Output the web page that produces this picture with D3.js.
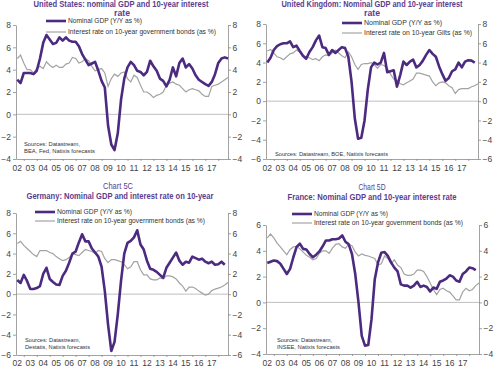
<!DOCTYPE html>
<html>
<head>
<meta charset="utf-8">
<script src="https://cdn.jsdelivr.net/npm/d3@7"></script>
<style>
  body { margin: 0; background: #fff; }
  svg { display: block; font-family: "Liberation Sans", Arial, sans-serif; }
</style>
</head>
<body>
<script>
//Variables
const width = 500;
const height = 367;

//Data: quarterly, starting 2002 Q1
const quarters = d3.range(66).map(i => 2002 + i * 0.25);
const yearLabels = ["02","03","04","05","06","07","08","09","10","11","12","13","14","15","16","17"];

const usGdp = [3.1,2.8,3.7,3.7, 3.7,3.6,3.9,5.0, 6.4,7.1,6.7,6.3, 6.4,6.9,6.6,6.9,
  6.6,6.5,6.5,6.1, 5.4,4.9,4.4,4.55, 4.7,3.9,3.0,2.4, -1.0,-2.7,-3.2,-1.7,
  1.3,3.2,4.2,4.7, 4.4,3.9,3.8,3.5, 3.8,4.8,4.3,3.9, 3.2,3.0,2.5,3.1,
  4.2,3.4,4.6,5.0, 4.2,4.5,4.1,3.5, 3.1,2.9,2.7,2.55, 2.9,3.6,4.6,5.0, 5.1,5.0];
const usRate = [5.0,5.3,4.6,4.0, 4.0,3.7,4.1,4.3, 4.1,4.7,4.4,4.2, 4.4,4.2,4.2,4.5,
  4.6,5.1,5.0,4.6, 4.7,5.0,4.8,4.3, 3.9,4.0,4.1,3.7, 2.5,3.2,3.6,3.4,
  3.7,3.8,3.2,2.9, 3.5,3.3,2.6,2.0, 2.0,1.8,1.5,1.7, 1.8,2.0,2.6,2.8,
  2.9,2.7,2.6,2.3, 2.0,2.2,2.3,2.2, 2.1,1.8,1.6,1.6, 2.5,2.6,2.7,2.9, 3.1,3.3];

const ukGdp = [4.0,4.5,5.3,5.7, 5.9,6.0,6.0,6.2, 5.6,5.75,5.2,4.7, 4.4,5.1,5.6,6.3,
  6.8,5.6,5.5,4.8, 5.3,5.0,5.3,5.6, 5.5,4.6,2.0,-1.8, -3.9,-3.8,-2.0,1.2,
  3.5,4.0,3.8,4.0, 5.0,3.0,3.1,3.2, 1.5,2.7,4.1,3.75, 4.1,4.3,3.5,3.75,
  4.2,4.8,5.3,4.9, 4.6,3.6,2.8,2.1, 2.4,3.1,3.3,4.0, 3.5,4.1,4.25,4.2, 4.0];
const ukRate = [5.2,5.35,5.0,4.6, 4.5,4.3,4.6,4.9, 5.0,5.3,5.1,4.7, 4.6,4.5,4.3,4.4,
  4.2,4.6,4.8,4.7, 5.0,5.3,5.0,4.7, 4.5,5.1,4.6,3.8, 3.3,3.8,3.9,3.9,
  4.0,3.8,3.4,3.8, 3.7,3.4,2.8,2.3, 2.1,1.8,1.7,1.9, 2.1,2.3,2.9,2.9,
  2.8,2.7,2.6,2.0, 1.6,1.9,2.0,1.9, 1.6,1.4,0.8,1.2, 1.3,1.3,1.3,1.5, 1.6,1.8];

const deGdp = [1.4,1.1,1.9,1.3, 0.5,0.5,0.6,0.8, 2.0,2.6,1.5,1.2, 0.95,0.9,1.8,2.3,
  3.1,4.0,4.2,5.1, 5.9,5.2,5.2,4.5, 4.1,3.7,2.7,0.3, -3.0,-5.6,-4.7,-2.0,
  1.3,4.0,5.05,5.25, 5.6,6.3,4.9,4.4, 3.3,2.5,2.4,2.2, 1.9,1.6,2.6,3.1,
  3.6,4.1,3.3,2.9, 3.2,3.1,3.7,3.55, 3.4,3.5,3.2,3.05, 3.2,2.9,2.95,3.2, 2.9];
const deRate = [5.0,5.2,4.8,4.5, 4.2,3.9,3.7,4.3, 4.3,4.3,4.1,4.0, 3.7,3.5,3.3,3.4,
  3.6,4.0,3.9,3.8, 4.1,4.4,4.3,4.2, 4.0,4.3,4.2,3.5, 3.1,3.4,3.4,3.3,
  3.2,2.9,2.5,2.7, 3.2,3.2,2.4,1.9, 1.9,1.5,1.4,1.4, 1.6,1.5,1.8,1.8,
  1.7,1.5,1.1,0.8, 0.3,0.7,0.7,0.55, 0.3,0.1,-0.1,0.0, 0.35,0.5,0.6,0.7, 0.9,1.15];

const frGdp = [3.05,3.15,3.25,3.2, 3.0,2.6,2.2,2.6, 3.5,4.3,4.55,4.15, 4.1,3.75,3.5,3.7,
  3.95,4.35,4.8,4.8, 4.9,4.9,4.95,5.2, 4.7,4.5,3.75,2.2, 0.0,-2.6,-3.35,-3.3,
  -1.3,1.8,3.1,3.85, 3.9,3.6,3.1,2.7, 2.4,1.4,1.3,1.3, 1.15,1.3,1.6,1.2,
  1.3,1.2,0.85,1.15, 1.05,1.6,1.7,1.85, 2.1,2.0,1.7,1.6, 2.2,2.4,2.7,2.65, 2.5];
const frRate = [5.0,5.3,5.0,4.6, 4.3,4.0,3.7,4.1, 4.3,4.35,4.15,3.9, 3.65,3.5,3.3,3.4,
  3.8,4.0,4.0,3.8, 4.2,4.5,4.55,4.3, 4.2,4.5,4.4,3.9, 3.6,3.75,3.65,3.6,
  3.5,3.4,2.9,3.0, 3.6,3.4,3.0,3.3, 2.9,2.7,2.2,2.1, 2.1,2.2,2.5,2.5,
  2.4,2.0,1.5,1.0, 0.6,1.0,1.1,0.9, 0.8,0.5,0.2,0.2, 0.8,1.1,0.9,1.0, 1.3,1.5];

const legendGdp = "Nominal GDP (Y/Y as %)";
const legendBonds = "Interest rate on 10-year government bonds (as %)";
const legendGilts = "Interest rate on 10-year Gilts (as %)";

//Panel layout
const panels = [
  { gdp: usGdp, rate: usRate, left: 16, right: 228, top: 25, bottom: 159, yDomain: [-4, 8],
    titles: [{ t: "United States: nominal GDP and 10-year interest", x: 121, y: 4, len: 175, bold: true },
             { t: "rate", x: 122, y: 13, len: 16, bold: true }],
    legendX: 46, legendY: [21, 32], legendTexts: [legendGdp, legendBonds], legendLens: [74, 148],
    sources: ["Sources: Datastream,", "BEA, Fed, Natixis forecasts"], sourceX: 24, sourceY: [144, 150.5], sourceLens: [56, 71],
    xLabelY: 168 },
  { gdp: ukGdp, rate: ukRate, left: 266, right: 478, top: 24, bottom: 159, yDomain: [-6, 8],
    titles: [{ t: "United Kingdom: Nominal GDP and 10-year interest", x: 372, y: 4.5, len: 181, bold: true },
             { t: "rate", x: 372, y: 13, len: 16, bold: true }],
    legendX: 342, legendY: [23, 33], legendTexts: [legendGdp, legendGilts], legendLens: [78, 108],
    sources: ["Sources: Datastream, BOE, Natixis forecasts"], sourceX: 275, sourceY: [154], sourceLens: [113],
    xLabelY: 168 },
  { gdp: deGdp, rate: deRate, left: 16, right: 228, top: 213, bottom: 355, yDomain: [-6, 8],
    titles: [{ t: "Chart 5C", x: 118, y: 185.5, len: 30, bold: false },
             { t: "Germany: Nominal GDP and interest rate on 10-year", x: 120, y: 196, len: 187, bold: true }],
    legendX: 35, legendY: [212, 221], legendTexts: [legendGdp, legendBonds], legendLens: [75, 148],
    sources: ["Sources: Datastream,", "Destatis, Natixis forecasts"], sourceX: 25, sourceY: [340, 346.5], sourceLens: [55, 65],
    xLabelY: 363 },
  { gdp: frGdp, rate: frRate, left: 266, right: 479, top: 225, bottom: 354, yDomain: [-4, 6],
    titles: [{ t: "Chart 5D", x: 372, y: 186.5, len: 27, bold: false },
             { t: "France: Nominal GDP and 10-year interest rate", x: 372, y: 197, len: 169, bold: true }],
    legendX: 292, legendY: [214, 223], legendTexts: [legendGdp, legendBonds], legendLens: [74, 149],
    sources: ["Sources: Datastream,", "INSEE, Natixis forecasts"], sourceX: 277, sourceY: [340, 346.5], sourceLens: [55, 63],
    xLabelY: 363 }
];

const purple = "#4b2a80";
const grey = "#a3a3a3";
const titleColour = "#5b3d8f";
const axisColour = "#8c8c8c";
const textColour = "#444";

//Svg creation
const svg = d3.select("body")
  .append("svg")
  .attr("width", width)
  .attr("height", height)
  .attr("viewBox", `0 0 ${width} ${height}`);

svg.append("rect").attr("width", width).attr("height", height).attr("fill", "#fff");

function styleAxis(sel) {
  sel.select(".domain").attr("stroke", axisColour).attr("stroke-width", 0.8);
  sel.selectAll(".tick line").attr("stroke", axisColour).attr("stroke-width", 0.8);
  sel.selectAll(".tick text").attr("fill", textColour).style("font-size", "8.5px");
}

panels.forEach(p => {
  const x = d3.scaleLinear().domain([2001.9, 2018.25]).range([p.left, p.right]);
  const y = d3.scaleLinear().domain(p.yDomain).range([p.bottom, p.top]);
  const yTicks = d3.range(p.yDomain[0], p.yDomain[1] + 1, 2);
  const g = svg.append("g");

  //Zero line
  g.append("line")
    .attr("x1", p.left).attr("x2", p.right)
    .attr("y1", y(0)).attr("y2", y(0))
    .attr("stroke", "#b8b8b8").attr("stroke-width", 0.9);

  //Axes
  g.append("g")
    .attr("transform", `translate(${p.left},0)`)
    .call(d3.axisLeft(y).tickValues(yTicks).tickSize(3).tickSizeOuter(0).tickPadding(2))
    .call(styleAxis);

  g.append("g")
    .attr("transform", `translate(${p.right},0)`)
    .call(d3.axisRight(y).tickValues(yTicks).tickSize(3).tickSizeOuter(0).tickPadding(1.5))
    .call(styleAxis);

  g.append("g")
    .attr("transform", `translate(0,${p.bottom})`)
    .call(d3.axisBottom(x).tickValues(d3.range(2002.5, 2018, 1)).tickSize(2).tickSizeOuter(0).tickFormat(""))
    .call(styleAxis);

  g.selectAll(".xlab")
    .data(yearLabels)
    .join("text")
    .attr("x", (d, i) => x(2002 + i))
    .attr("y", p.xLabelY)
    .attr("dy", "0.35em")
    .attr("text-anchor", "middle")
    .attr("fill", textColour)
    .style("font-size", "8.5px")
    .text(d => d);

  //Lines
  const line = d3.line()
    .x((d, i) => x(quarters[i]))
    .y(d => y(d));

  g.append("path")
    .datum(p.rate)
    .attr("d", line)
    .attr("fill", "none")
    .attr("stroke", grey)
    .attr("stroke-width", 1.2);

  g.append("path")
    .datum(p.gdp)
    .attr("d", line)
    .attr("fill", "none")
    .attr("stroke", purple)
    .attr("stroke-width", 2.6)
    .attr("stroke-linejoin", "round");

  //Titles
  p.titles.forEach(t => {
    g.append("text")
      .attr("x", t.x).attr("y", t.y).attr("dy", "0.35em")
      .attr("text-anchor", "middle")
      .attr("fill", titleColour)
      .attr("font-weight", t.bold ? "bold" : "normal")
      .attr("textLength", t.len)
      .attr("lengthAdjust", "spacingAndGlyphs")
      .style("font-size", t.bold ? "8.5px" : "9px")
      .text(t.t);
  });

  //Legend
  p.legendTexts.forEach((txt, i) => {
    g.append("line")
      .attr("x1", p.legendX).attr("x2", p.legendX + 20)
      .attr("y1", p.legendY[i]).attr("y2", p.legendY[i])
      .attr("stroke", i === 0 ? purple : grey)
      .attr("stroke-width", i === 0 ? 2.6 : 1.2);
    g.append("text")
      .attr("x", p.legendX + 22).attr("y", p.legendY[i]).attr("dy", "0.35em")
      .attr("fill", "#333")
      .attr("textLength", p.legendLens[i])
      .attr("lengthAdjust", "spacingAndGlyphs")
      .style("font-size", "7px")
      .text(txt);
  });

  //Sources
  p.sources.forEach((s, i) => {
    g.append("text")
      .attr("x", p.sourceX).attr("y", p.sourceY[i]).attr("dy", "0.35em")
      .attr("fill", "#333")
      .attr("textLength", p.sourceLens[i])
      .attr("lengthAdjust", "spacingAndGlyphs")
      .style("font-size", "6px")
      .text(s);
  });
});
</script>
</body>
</html>
